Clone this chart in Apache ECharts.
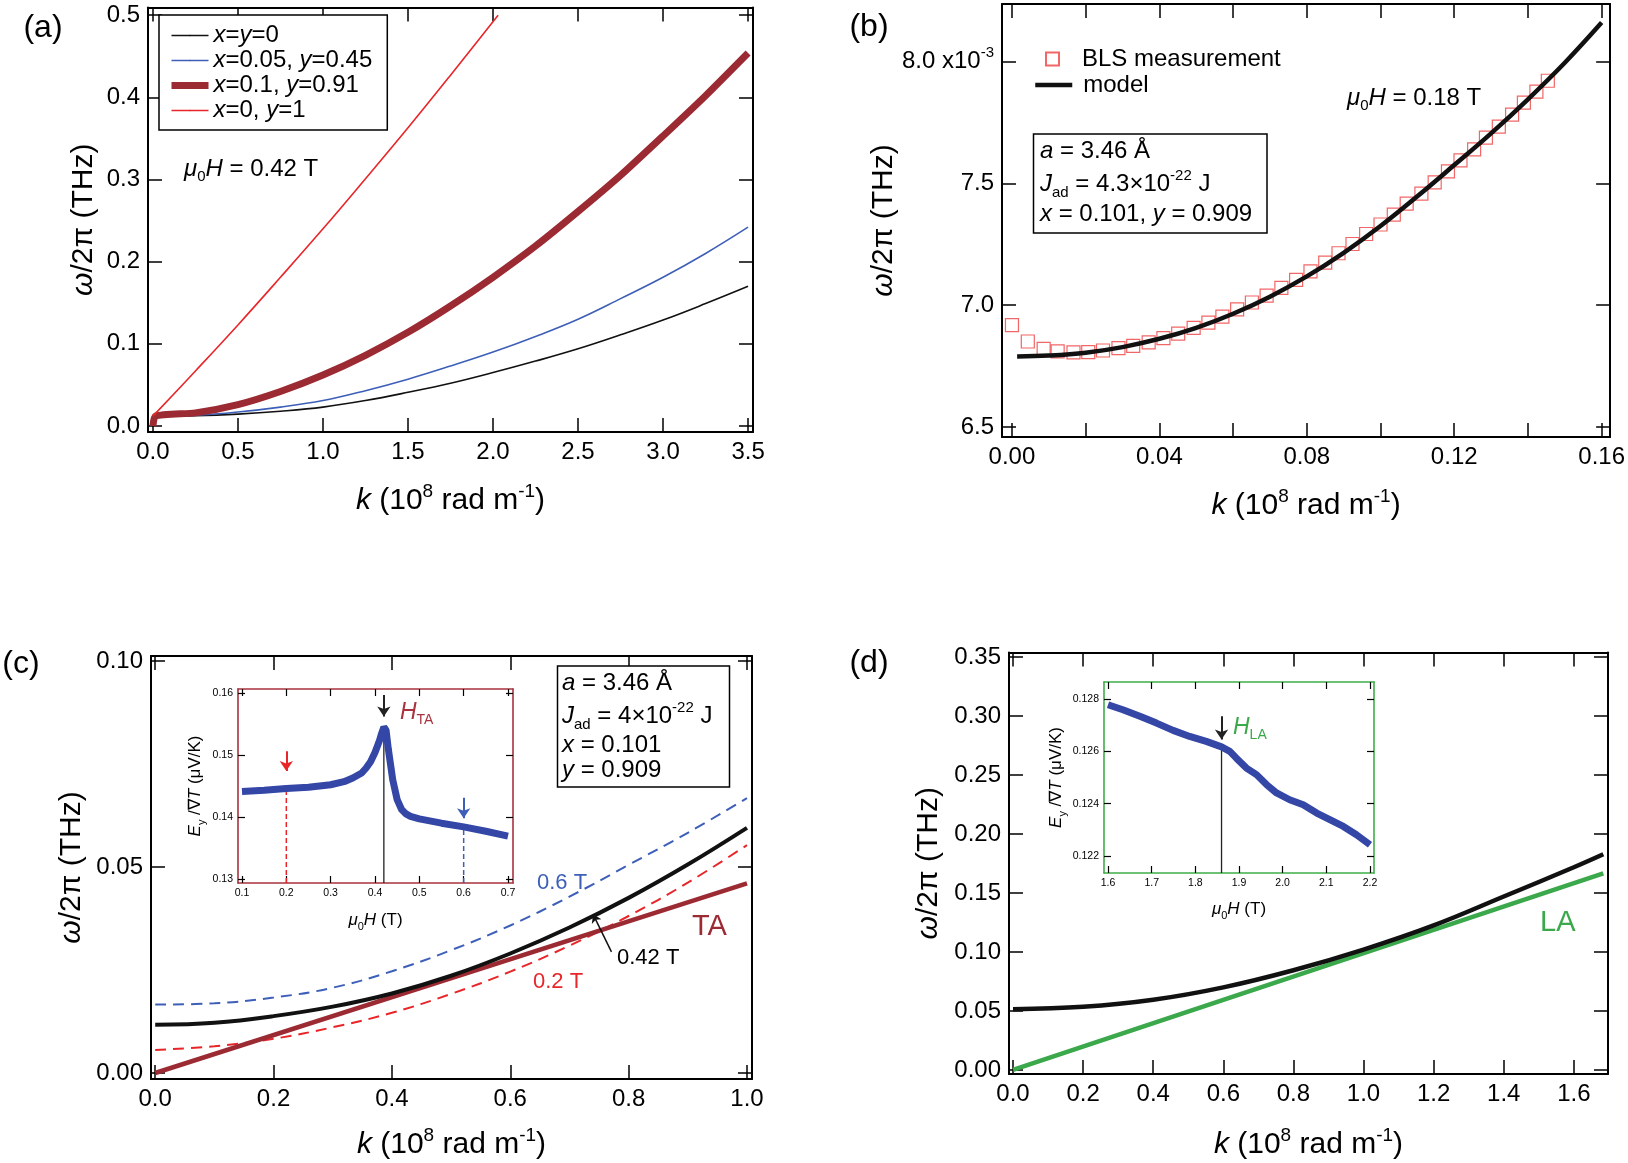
<!DOCTYPE html>
<html>
<head>
<meta charset="utf-8">
<script src="https://cdn.jsdelivr.net/npm/echarts@6/dist/echarts.min.js"></script>
<style>
  html, body { margin: 0; padding: 0; background: #fff; }
  #chart { width: 1628px; height: 1163px; }
</style>
</head>
<body>
<div id="chart"></div>
<script>
// ---------- values ----------
// (a) dispersion at mu0H = 0.42 T, k in 1e8 rad/m, omega/2pi in THz
const kA = [0, 0.25, 0.5, 0.75, 1.0, 1.25, 1.5, 1.75, 2.0, 2.25, 2.5, 2.75, 3.0, 3.25, 3.5];
const wA_xy0 = [0.012, 0.0125, 0.0145, 0.018, 0.023, 0.031, 0.041, 0.052, 0.065, 0.079, 0.094, 0.111, 0.129, 0.149, 0.170];
const wA_x005 = [0.012, 0.013, 0.017, 0.023, 0.031, 0.043, 0.057, 0.073, 0.090, 0.109, 0.130, 0.155, 0.181, 0.210, 0.242];
const kA_x01 = [0, 0.015, 0.25, 0.5, 0.75, 1.0, 1.25, 1.5, 1.75, 2.0, 2.25, 2.5, 2.75, 3.0, 3.25, 3.5];
const wA_x01 = [0.0, 0.012, 0.016, 0.026, 0.042, 0.062, 0.086, 0.114, 0.146, 0.181, 0.219, 0.261, 0.305, 0.353, 0.402, 0.454];
const kA_y1 = [0, 0.25, 0.5, 0.75, 1.0, 1.25, 1.5, 1.75, 2.03];
const wA_y1 = [0.012, 0.067, 0.123, 0.181, 0.240, 0.301, 0.363, 0.427, 0.500];

// (b) BLS points and model, omega/2pi in 1e-3 THz
const kB_bls = [0.0000, 0.0043, 0.0086, 0.0124, 0.0167, 0.0207, 0.0247, 0.0289, 0.0329, 0.0371, 0.0411, 0.0451, 0.0493,
  0.0533, 0.0571, 0.0611, 0.0651, 0.0691, 0.0731, 0.0771, 0.0810, 0.0850, 0.0886, 0.0924, 0.0961, 0.1000, 0.1036,
  0.1071, 0.1111, 0.1147, 0.1183, 0.1217, 0.1254, 0.1286, 0.1321, 0.1357, 0.1389, 0.1423, 0.1454];
const wB_bls = [6.918, 6.851, 6.821, 6.810, 6.806, 6.807, 6.814, 6.824, 6.833, 6.847, 6.865, 6.883, 6.907,
  6.928, 6.953, 6.983, 7.011, 7.039, 7.071, 7.104, 7.139, 7.175, 7.213, 7.251, 7.292, 7.331, 7.372,
  7.417, 7.458, 7.504, 7.549, 7.594, 7.639, 7.688, 7.733, 7.782, 7.831, 7.876, 7.921];
const kB_model = [0.0014, 0.01, 0.02, 0.03, 0.04, 0.05, 0.06, 0.07, 0.08, 0.09, 0.10, 0.11, 0.12, 0.13, 0.14, 0.15, 0.16];
const wB_model = [6.789, 6.793, 6.805, 6.828, 6.862, 6.907, 6.965, 7.035, 7.118, 7.215, 7.325, 7.447, 7.575, 7.705, 7.845, 7.995, 8.160];

// (c) magnon branches at 0.2 / 0.42 / 0.6 T and TA phonon
const kC = [0, 0.1, 0.2, 0.3, 0.4, 0.5, 0.6, 0.7, 0.8, 0.9, 1.0];
const wC_042T = [0.0117, 0.0122, 0.0138, 0.0161, 0.0193, 0.0236, 0.0290, 0.0353, 0.0425, 0.0506, 0.0595];
const wC_06T = [0.0166, 0.0169, 0.0183, 0.0207, 0.0247, 0.0298, 0.0358, 0.0428, 0.0505, 0.0583, 0.0667];
const wC_02T = [0.0056, 0.0065, 0.0083, 0.0111, 0.0146, 0.0192, 0.0246, 0.0309, 0.0381, 0.0462, 0.0553];
const kC_TA = [0, 1.0];
const wC_TA = [0, 0.046];
const ptrC_k = [0.771, 0.740];      // "0.42 T" pointer (tail, head)
const ptrC_w = [0.0294, 0.0385];

// (d) magnon branch at 1.86 T and LA phonon
const kD = [0, 0.2, 0.4, 0.6, 0.8, 1.0, 1.2, 1.4, 1.6, 1.684];
const wD_model = [0.0515, 0.0535, 0.0595, 0.0700, 0.0845, 0.1020, 0.1225, 0.1470, 0.1718, 0.1828];
const kD_LA = [0, 1.684];
const wD_LA = [0, 0.1667];

// inset of (c): Ey/gradT (uV/K) vs mu0H (T)
const hC = [0.10, 0.15, 0.20, 0.25, 0.30, 0.33, 0.35, 0.37, 0.38, 0.39, 0.40, 0.41, 0.415, 0.42, 0.425, 0.43,
  0.435, 0.44, 0.45, 0.46, 0.47, 0.48, 0.50, 0.55, 0.60, 0.65, 0.70];
const eC = [0.1441, 0.1443, 0.1446, 0.1448, 0.1452, 0.1457, 0.1463, 0.1471, 0.1479, 0.1489, 0.1504, 0.1523, 0.1535,
  0.1545, 0.1540, 0.1510, 0.1485, 0.1460, 0.1428, 0.1412, 0.1405, 0.1401, 0.1397, 0.1390, 0.1384, 0.1377, 0.1369];
const markC_h = [0.2, 0.42, 0.6];
const markC_e = [0.1446, 0.1545, 0.1384];
const arrowC_from = [0.1506, 0.1597, 0.1431];
const arrowC_to = [0.1474, 0.1562, 0.1398];

// inset of (d)
const hD = [1.600, 1.634, 1.673, 1.711, 1.749, 1.787, 1.825, 1.860, 1.879, 1.894, 1.917, 1.940, 1.963, 1.986,
  2.016, 2.047, 2.078, 2.108, 2.139, 2.169, 2.200];
const eD = [0.12778, 0.12759, 0.12734, 0.12708, 0.12680, 0.12657, 0.12638, 0.12617, 0.12600, 0.12574, 0.12536,
  0.12511, 0.12473, 0.12441, 0.12415, 0.12396, 0.12364, 0.12339, 0.12313, 0.12281, 0.12243];
const markD_h = [1.86];
const markD_e = [0.12617];
const arrowD_from = [0.12734];
const arrowD_to = [0.12645];

// tick positions
const ticksA_x = [0, 0.5, 1.0, 1.5, 2.0, 2.5, 3.0, 3.5];
const ticksA_y = [0, 0.1, 0.2, 0.3, 0.4, 0.5];
const ticksB_x = [0, 0.02, 0.04, 0.06, 0.08, 0.10, 0.12, 0.14, 0.16];
const labelsB_x = [0, 0.04, 0.08, 0.12, 0.16];
const ticksB_y = [6.5, 7.0, 7.5, 8.0];
const ticksC_x = [0, 0.2, 0.4, 0.6, 0.8, 1.0];
const ticksC_y = [0, 0.05, 0.10];
const ticksD_x = [0, 0.2, 0.4, 0.6, 0.8, 1.0, 1.2, 1.4, 1.6];
const ticksD_y = [0, 0.05, 0.10, 0.15, 0.20, 0.25, 0.30, 0.35];
const ticksIC_x = [0.1, 0.2, 0.3, 0.4, 0.5, 0.6, 0.7];
const ticksIC_y = [0.13, 0.14, 0.15, 0.16];
const ticksID_x = [1.6, 1.7, 1.8, 1.9, 2.0, 2.1, 2.2];
const ticksID_y = [0.122, 0.124, 0.126, 0.128];

const namesA = ['x=y=0', 'x=0.05, y=0.45', 'x=0.1, y=0.91', 'x=0, y=1'];
const legendTextA = {
  'x=y=0': '{i|x}={i|y}=0',
  'x=0.05, y=0.45': '{i|x}=0.05, {i|y}=0.45',
  'x=0.1, y=0.91': '{i|x}=0.1, {i|y}=0.91',
  'x=0, y=1': '{i|x}=0, {i|y}=1'
};

// ---------- styling ----------
const FONT = "'Liberation Sans', Arial, Helvetica, sans-serif";
const BLACK = '#111';
const BLUE = '#3d5fb8';
const DARKRED = '#9c2a33';
const RED = '#e8262a';
const GREEN = '#3ba84b';
const INSETBLUE = '#3446a6';

// rich text for echarts labels (color) and zrender graphics (fill)
function richE(size, color) {
  const s = Math.round(size * 0.62);
  return {
    i: { fontStyle: 'italic', fontFamily: FONT, fontSize: size, color: color },
    sub: { fontFamily: FONT, fontSize: s, color: color, verticalAlign: 'bottom', lineHeight: size + 6 },
    sup: { fontFamily: FONT, fontSize: s, color: color, verticalAlign: 'top', lineHeight: size + 8 }
  };
}
function richG(size, color) {
  const s = Math.round(size * 0.62);
  return {
    i: { fontStyle: 'italic', fontFamily: FONT, fontSize: size, fill: color },
    sub: { fontFamily: FONT, fontSize: s, fill: color, verticalAlign: 'bottom', lineHeight: size + 6 },
    sup: { fontFamily: FONT, fontSize: s, fill: color, verticalAlign: 'top', lineHeight: size + 8 }
  };
}

const xAxis = [];
const yAxis = [];
// four-sided frame with inside ticks for grid g
function frame(g, c) {
  const tickLine = { color: '#000', width: c.tw };
  const frameLine = { color: c.frameColor, width: c.fw };
  const tick = (vals) => ({ show: true, inside: true, length: c.tl, customValues: vals, lineStyle: tickLine });
  const label = (vals, fmt) => ({
    show: true, customValues: vals, formatter: fmt, color: '#000',
    fontFamily: FONT, fontSize: c.fs, margin: c.lm, rich: c.labelRich
  });
  const nameStyle = { color: '#000', fontFamily: FONT, fontSize: c.ns, rich: richE(c.ns, '#000') };
  xAxis.push({
    type: 'value', gridIndex: g, position: 'bottom', min: c.x[0], max: c.x[1],
    axisLine: { show: true, onZero: false, lineStyle: frameLine },
    axisTick: tick(c.xt), axisLabel: label(c.xl, c.xf), splitLine: { show: false },
    name: c.xn, nameLocation: 'middle', nameGap: c.xg, nameMoveOverlap: false, nameTextStyle: nameStyle
  });
  xAxis.push({
    type: 'value', gridIndex: g, position: 'top', min: c.x[0], max: c.x[1],
    axisLine: { show: true, onZero: false, lineStyle: frameLine },
    axisTick: tick(c.xt), axisLabel: { show: false }, splitLine: { show: false }
  });
  yAxis.push({
    type: 'value', gridIndex: g, position: 'left', min: c.y[0], max: c.y[1],
    axisLine: { show: true, onZero: false, lineStyle: frameLine },
    axisTick: tick(c.yt), axisLabel: label(c.yl, c.yf), splitLine: { show: false },
    name: c.yn, nameLocation: 'middle', nameGap: c.yg, nameRotate: 90, nameMoveOverlap: false,
    nameTextStyle: nameStyle
  });
  yAxis.push({
    type: 'value', gridIndex: g, position: 'right', min: c.y[0], max: c.y[1],
    axisLine: { show: true, onZero: false, lineStyle: frameLine },
    axisTick: tick(c.yt), axisLabel: { show: false }, splitLine: { show: false }
  });
}

const kName = '{i|k} (10{sup|8} rad m{sup|-1})';
const wName = '{i|ω}/2π (THz)';
const fix = (n) => (v) => v.toFixed(n);
const main = { tw: 1.5, fw: 2, tl: 14, fs: 24, lm: 8, ns: 30, frameColor: '#000' };

frame(0, Object.assign({}, main, {
  x: [-0.029, 3.529], y: [-0.0073, 0.5095], xt: ticksA_x, xl: ticksA_x, yt: ticksA_y, yl: ticksA_y,
  xf: fix(1), yf: fix(1), xn: kName, xg: 50, yn: wName, yg: 49
}));
frame(1, Object.assign({}, main, {
  x: [-0.0027, 0.1623], y: [6.459, 8.236], xt: ticksB_x, xl: labelsB_x, yt: ticksB_y, yl: ticksB_y,
  xf: fix(2), yf: (v) => (v === 8 ? '8.0 x10{sup|-3}' : v.toFixed(1)),
  labelRich: { sup: { fontFamily: FONT, fontSize: 15, color: '#000', verticalAlign: 'top', lineHeight: 32 } },
  xn: kName, xg: 50, yn: wName, yg: 103
}));
frame(2, Object.assign({}, main, {
  x: [-0.0071, 1.0085], y: [-0.00146, 0.1012], xt: ticksC_x, xl: ticksC_x, yt: ticksC_y, yl: ticksC_y,
  xf: fix(1), yf: fix(2), xn: kName, xg: 47, yn: wName, yg: 64
}));
frame(3, Object.assign({}, main, {
  x: [-0.0114, 1.6974], y: [-0.0034, 0.3538], xt: ticksD_x, xl: ticksD_x, yt: ticksD_y, yl: ticksD_y,
  xf: fix(1), yf: fix(2), xn: kName, xg: 52, yn: wName, yg: 65
}));
const inset = { tw: 1.2, fw: 1.6, tl: 7, fs: 10.5, lm: 5, ns: 17 };
const hName = '{i|μ}{sub|0}{i|H} (T)';
const eName = '{i|E}{sub|y} /∇{i|T} (μV/K)';
frame(4, Object.assign({}, inset, {
  frameColor: '#a8323e', x: [0.091, 0.7113], y: [0.12935, 0.16065],
  xt: ticksIC_x, xl: ticksIC_x, yt: ticksIC_y, yl: ticksIC_y, xf: fix(1), yf: fix(2),
  xn: hName, xg: 26, yn: eName, yg: 31
}));
frame(5, Object.assign({}, inset, {
  frameColor: '#3fae49', x: [1.5908, 2.2092], y: [0.12135, 0.12865],
  xt: ticksID_x, xl: ticksID_x, yt: ticksID_y, yl: ticksID_y, xf: fix(1), yf: fix(3),
  xn: hName, xg: 25, yn: eName, yg: 36
}));

function pairs(xs, ys) { return xs.map((x, i) => [x, ys[i]]); }
function line(g, name, xs, ys, color, width, extra) {
  return Object.assign({
    type: 'line', name: name, xAxisIndex: 2 * g, yAxisIndex: 2 * g,
    data: pairs(xs, ys), showSymbol: false, symbol: 'none', smooth: 0.4,
    lineStyle: { color: color, width: width }, itemStyle: { color: color }, silent: true
  }, extra || {});
}
function arrow(x0, y0, x1, y1, color, size, width) {
  return {
    silent: true, symbol: ['none', 'arrow'], symbolSize: size, label: { show: false },
    lineStyle: { color: color, width: width, type: 'solid' },
    data: [[{ coord: [x0, y0] }, { coord: [x1, y1] }]]
  };
}
// vertical marker from the bottom of an inset up to the curve, with an arrow above it
function marker(g, yBottom, h, e, from, to, color, dashed, dash) {
  return {
    type: 'line', xAxisIndex: 2 * g, yAxisIndex: 2 * g, symbol: 'none', showSymbol: false, silent: true,
    data: [[h, yBottom], [h, e]],
    lineStyle: { color: dashed ? color : '#222', width: dashed ? 1.5 : 1.3, type: dashed ? dash : 'solid' },
    markLine: arrow(h, from, h, to, color, 10, 2)
  };
}

const series = [
  // (a)
  line(0, namesA[0], kA, wA_xy0, BLACK, 1.6),
  line(0, namesA[1], kA, wA_x005, BLUE, 1.6),
  line(0, namesA[2], kA_x01, wA_x01, DARKRED, 7, { smooth: 0.2 }),
  line(0, namesA[3], kA_y1, wA_y1, RED, 1.6),
  // (b)
  {
    type: 'scatter', name: 'BLS measurement', xAxisIndex: 2, yAxisIndex: 2, symbol: 'rect', symbolSize: 13,
    data: pairs(kB_bls, wB_bls), silent: true,
    itemStyle: { color: 'rgba(255,255,255,0)', borderColor: '#ee4040', borderWidth: 1.2 }
  },
  line(1, 'model', kB_model, wB_model, BLACK, 4.5),
  // (c)
  line(2, '0.6 T', kC, wC_06T, BLUE, 2, { lineStyle: { color: BLUE, width: 2, type: [11, 7] } }),
  line(2, '0.2 T', kC, wC_02T, RED, 2, { lineStyle: { color: RED, width: 2, type: [11, 7] } }),
  line(2, 'TA', kC_TA, wC_TA, DARKRED, 4.5, { smooth: false }),
  line(2, '0.42 T', kC, wC_042T, BLACK, 4, {
    markLine: arrow(ptrC_k[0], ptrC_w[0], ptrC_k[1], ptrC_w[1], BLACK, 8, 1.5)
  }),
  // (d)
  line(3, 'LA', kD_LA, wD_LA, GREEN, 4.5, { smooth: false }),
  line(3, '1.86 T', kD, wD_model, BLACK, 4.5),
  // inset (c)
  marker(4, 0.12935, markC_h[0], markC_e[0], arrowC_from[0], arrowC_to[0], RED, true, [5, 3]),
  marker(4, 0.12935, markC_h[1], markC_e[1], arrowC_from[1], arrowC_to[1], '#222', false),
  marker(4, 0.12935, markC_h[2], markC_e[2], arrowC_from[2], arrowC_to[2], BLUE, true, [5, 3]),
  line(4, 'inset c', hC, eC, INSETBLUE, 7, { smooth: false, z: 3 }),
  // inset (d)
  marker(5, 0.12135, markD_h[0], markD_e[0], arrowD_from[0], arrowD_to[0], '#222', false),
  line(5, 'inset d', hD, eD, INSETBLUE, 7, { smooth: false, z: 3 })
];

function txt(x, y, text, size, color, align) {
  return {
    type: 'text', x: x, y: y, z: 100,
    style: {
      text: text, fill: color, fontFamily: FONT, fontSize: size,
      align: align || 'left', verticalAlign: 'middle', rich: richG(size, color)
    }
  };
}
function box(x, y, w, h) {
  return { type: 'rect', z: 90, shape: { x: x, y: y, width: w, height: h },
    style: { fill: '#fff', stroke: '#000', lineWidth: 1.5 } };
}

const graphic = [
  txt(43, 28, '(a)', 32, '#000', 'center'),
  txt(869, 27, '(b)', 32, '#000', 'center'),
  txt(21, 664, '(c)', 32, '#000', 'center'),
  txt(869, 663, '(d)', 32, '#000', 'center'),
  txt(184, 169, '{i|μ}{sub|0}{i|H} = 0.42 T', 24, '#000'),
  txt(1347, 98, '{i|μ}{sub|0}{i|H} = 0.18 T', 24, '#000'),
  box(1033.5, 134, 233.5, 99),
  txt(1040, 151, '{i|a} = 3.46 Å', 24, '#000'),
  txt(1040, 184, '{i|J}{sub|ad} = 4.3×10{sup|-22} J', 24, '#000'),
  txt(1040, 214, '{i|x} = 0.101, {i|y} = 0.909', 24, '#000'),
  box(557.5, 666, 172, 121),
  txt(562, 683, '{i|a} = 3.46 Å', 24, '#000'),
  txt(562, 716, '{i|J}{sub|ad} = 4×10{sup|-22} J', 24, '#000'),
  txt(562, 745, '{i|x} = 0.101', 24, '#000'),
  txt(562, 770, '{i|y} = 0.909', 24, '#000'),
  txt(537, 883, '0.6 T', 22, BLUE),
  txt(692, 927, 'TA', 29, DARKRED),
  txt(617, 958, '0.42 T', 22, '#000'),
  txt(533, 982, '0.2 T', 22, RED),
  txt(1540, 923, 'LA', 29, GREEN),
  txt(400, 713, '{i|H}{sub|TA}', 23, '#a8323e'),
  txt(1233, 728, '{i|H}{sub|LA}', 23, GREEN)
];

// a tiny itemHeight keeps the legend's marker dot hidden under the line sample
const legendWidthsA = [1.6, 1.6, 7, 1.6];
const legend = [
  {
    data: namesA.map((n, i) => ({ name: n, lineStyle: { width: legendWidthsA[i] } })),
    orient: 'vertical', left: 159, top: 15, padding: [8, 15, 7, 9], itemGap: 0,
    itemWidth: 37, itemHeight: 2, borderColor: '#000', borderWidth: 1.5, backgroundColor: '#fff',
    selectedMode: false, formatter: (n) => legendTextA[n],
    textStyle: {
      fontFamily: FONT, fontSize: 24, lineHeight: 25, color: '#000',
      rich: { i: { fontStyle: 'italic', fontFamily: FONT, fontSize: 24, lineHeight: 25, color: '#000' } }
    }
  },
  {
    data: ['BLS measurement'], left: 1045, top: 47, padding: 0, itemWidth: 13, itemHeight: 13,
    selectedMode: false, textStyle: { fontFamily: FONT, fontSize: 24, color: '#000', padding: [0, 0, 0, 18] }
  },
  {
    data: [{ name: 'model', lineStyle: { width: 4.5 } }], left: 1033, top: 73, padding: 0,
    itemWidth: 37, itemHeight: 2, selectedMode: false,
    textStyle: { fontFamily: FONT, fontSize: 24, color: '#000', padding: [0, 0, 0, 6] }
  }
];

const chart = echarts.init(document.getElementById('chart'));
chart.setOption({
  animation: false,
  backgroundColor: '#fff',
  textStyle: { fontFamily: FONT },
  grid: [
    { left: 148, top: 7.4, width: 605, height: 424.6 },
    { left: 1002, top: 4, width: 610, height: 433 },
    { left: 151, top: 656, width: 601, height: 423 },
    { left: 1009, top: 652.5, width: 599, height: 421.5 },
    { left: 238, top: 689, width: 275, height: 194 },
    { left: 1104, top: 682, width: 270, height: 191 }
  ],
  xAxis: xAxis,
  yAxis: yAxis,
  legend: legend,
  series: series,
  graphic: graphic
});
</script>
</body>
</html>
